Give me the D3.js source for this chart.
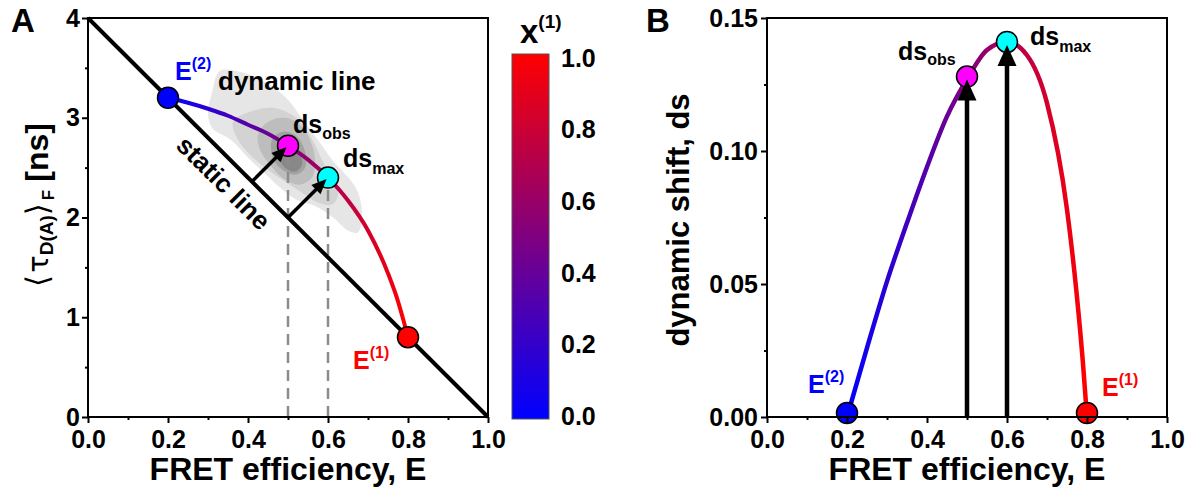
<!DOCTYPE html>
<html>
<head>
<meta charset="utf-8">
<script src="https://cdn.jsdelivr.net/npm/d3@7"></script>
<style>
  body { margin: 0; background: #fff; }
  svg { display: block; }
  text { font-family: "Liberation Sans", Arial, sans-serif; font-weight: bold; fill: #000; }
</style>
</head>
<body>
<svg id="fig" width="1199" height="495"></svg>
<script>
// ---- axis ticks ----
const effTicks  = [0, 0.2, 0.4, 0.6, 0.8, 1.0];
const effMinor  = [0.1, 0.3, 0.5, 0.7, 0.9];
const tauTicks  = [0, 1, 2, 3, 4];
const tauMinor  = [0.5, 1.5, 2.5, 3.5];
const dsTicks   = [0, 0.05, 0.10, 0.15];
const dsMinor   = [0.025, 0.075, 0.125];
const fracTicks = [0, 0.2, 0.4, 0.6, 0.8, 1.0];

// ---- static FRET line ----
const staticE   = [0, 1];
const staticTau = [4, 0];

// ---- dynamic FRET line (two-state mixing between E(2) and E(1)) ----
const dynE     = [0.20, 0.25, 0.30, 0.35, 0.40, 0.45, 0.50, 0.55, 0.60, 0.65, 0.70, 0.75, 0.775, 0.79, 0.80];
const dynTau   = [3.20, 3.15, 3.09, 3.02, 2.93, 2.84, 2.72, 2.58, 2.40, 2.17, 1.87, 1.44, 1.16, 0.95, 0.80];
const dynShift = [0.000, 0.026, 0.051, 0.073, 0.094, 0.113, 0.127, 0.138, 0.141, 0.136, 0.118, 0.078, 0.045, 0.020, 0.000];

// ---- highlighted states ----
const markE     = [0.2, 0.5, 0.6, 0.8];
const markTau   = [3.2, 2.72, 2.40, 0.8];
const markShift = [0.0015, 0.128, 0.141, 0.0015];
const markFill  = ["#0000ff", "#ff00ff", "#00ffff", "#ff0000"];

// ---- shift arrows in panel A (from static line to dynamic line) ----
const arrowFromE   = [0.41, 0.50];
const arrowFromTau = [2.36, 2.00];
const arrowToE     = [0.50, 0.60];
const arrowToTau   = [2.72, 2.40];

// ---- 2D histogram contours (E, tau) ----
const contour1 = [[0.33,3.47],[0.39,3.45],[0.45,3.34],[0.50,3.18],[0.535,2.99],[0.58,2.75],[0.61,2.58],[0.655,2.38],[0.675,2.25],[0.685,2.04],[0.675,1.85],[0.65,1.87],[0.6125,2.0],[0.57,2.11],[0.52,2.18],[0.48,2.30],[0.44,2.45],[0.40,2.60],[0.36,2.77],[0.31,2.90],[0.30,3.05],[0.31,3.25]];
const contour2 = [[0.3625,2.96],[0.405,3.06],[0.46,3.10],[0.51,3.03],[0.5425,2.90],[0.5675,2.73],[0.585,2.58],[0.61,2.40],[0.625,2.23],[0.61,2.13],[0.575,2.15],[0.53,2.26],[0.485,2.38],[0.4425,2.50],[0.405,2.63],[0.375,2.78]];
const contour3 = [[0.425,2.83],[0.45,2.96],[0.4925,3.0],[0.53,2.93],[0.555,2.78],[0.5675,2.58],[0.56,2.40],[0.53,2.33],[0.4925,2.38],[0.455,2.53],[0.43,2.68]];
const contour4 = [[0.46,2.78],[0.4875,2.86],[0.5225,2.81],[0.5425,2.66],[0.5425,2.50],[0.52,2.43],[0.485,2.48],[0.4625,2.60]];
const contour5 = [[0.485,2.68],[0.51,2.70],[0.53,2.63],[0.535,2.53],[0.5175,2.46],[0.4925,2.50],[0.48,2.58]];
const contourShades = ["#e6e6e6", "#d3d3d3", "#bdbdbd", "#a2a2a2", "#888888"];

const svg = d3.select("#fig");
const defs = svg.append("defs");
const colorOf = d3.interpolateRgb("#0000ff", "#ff0000");

// ---- scales ----
const xA = d3.scaleLinear([0, 1], [88, 488]);
const yA = d3.scaleLinear([0, 4], [417, 18]);
const xB = d3.scaleLinear([0, 1], [767, 1167]);
const yB = d3.scaleLinear([0, 0.15], [417, 18]);
const yC = d3.scaleLinear([0, 1], [416, 58]);

// horizontal gradient following x(1), which runs linearly from E(2) to E(1)
function hGradient(id, x) {
  const g = defs.append("linearGradient").attr("id", id)
    .attr("gradientUnits", "userSpaceOnUse")
    .attr("x1", x(markE[0])).attr("x2", x(markE[3])).attr("y1", 0).attr("y2", 0);
  fracTicks.forEach(f => g.append("stop").attr("offset", f).attr("stop-color", colorOf(f)));
}
hGradient("gradA", xA);
hGradient("gradB", xB);
const vg = defs.append("linearGradient").attr("id", "gradC")
  .attr("x1", 0).attr("x2", 0).attr("y1", 1).attr("y2", 0);
fracTicks.forEach(f => vg.append("stop").attr("offset", f).attr("stop-color", colorOf(f)));

const TICK_FONT = 25;

function styleAxis(g) {
  g.select(".domain").remove();
  g.selectAll(".tick line").attr("stroke", "#000").attr("stroke-width", 2);
  g.selectAll(".tick text").attr("font-size", TICK_FONT).attr("fill", "#000");
}

function axes(x, y, yTicks, yMinor, yFmt, yPad) {
  const x0 = x.range()[0], y0 = y.range()[0];
  svg.append("g").attr("transform", `translate(0,${y0})`)
    .call(d3.axisBottom(x).tickValues(effTicks).tickSize(6).tickPadding(7).tickFormat(d3.format(".1f")))
    .call(styleAxis);
  svg.append("g").attr("transform", `translate(0,${y0})`)
    .call(d3.axisBottom(x).tickValues(effMinor).tickSize(3).tickFormat(""))
    .call(styleAxis);
  svg.append("g").attr("transform", `translate(${x0},0)`)
    .call(d3.axisLeft(y).tickValues(yTicks).tickSize(6).tickPadding(yPad).tickFormat(yFmt))
    .call(styleAxis);
  svg.append("g").attr("transform", `translate(${x0},0)`)
    .call(d3.axisLeft(y).tickValues(yMinor).tickSize(3).tickFormat(""))
    .call(styleAxis);
}

function frame(x, y) {
  svg.append("rect")
    .attr("x", x.range()[0]).attr("y", y.range()[1])
    .attr("width", x.range()[1] - x.range()[0]).attr("height", y.range()[0] - y.range()[1])
    .attr("fill", "none").attr("stroke", "#000").attr("stroke-width", 2);
}

function arrowHead(tx, ty, fx, fy, len, wid) {
  const a = Math.atan2(ty - fy, tx - fx);
  const ux = Math.cos(a), uy = Math.sin(a);
  const bx = tx - ux * len, by = ty - uy * len;
  const px = -uy * wid / 2, py = ux * wid / 2;
  return `M${tx},${ty}L${bx + px},${by + py}L${bx - px},${by - py}Z`;
}

function richLabel(x, y, base, sub, color, size, subSize, dy) {
  const t = svg.append("text").attr("x", x).attr("y", y).attr("font-size", size).style("fill", color);
  t.append("tspan").text(base);
  t.append("tspan").attr("font-size", subSize).attr("dy", dy).text(sub);
  return t;
}

// =================== Panel A ===================
const gA = svg.append("g");
const closed = d3.line().x(d => xA(d[0])).y(d => yA(d[1])).curve(d3.curveCatmullRomClosed.alpha(0.5));
[contour1, contour2, contour3, contour4, contour5].forEach((c, i) =>
  gA.append("path").attr("d", closed(c)).attr("fill", contourShades[i]));

// dashed guides at the two highlighted efficiencies
[1, 2].forEach(i => gA.append("line")
  .attr("x1", xA(markE[i])).attr("x2", xA(markE[i]))
  .attr("y1", yA(0)).attr("y2", yA(markTau[i]) + 12)
  .attr("stroke", "#8c8c8c").attr("stroke-width", 2.5).attr("stroke-dasharray", "11,7"));

gA.append("line")
  .attr("x1", xA(staticE[0])).attr("y1", yA(staticTau[0]))
  .attr("x2", xA(staticE[1])).attr("y2", yA(staticTau[1]))
  .attr("stroke", "#000").attr("stroke-width", 4);

const dynLineA = d3.line().x((d, i) => xA(dynE[i])).y((d, i) => yA(dynTau[i])).curve(d3.curveMonotoneX);
gA.append("path").attr("d", dynLineA(dynE)).attr("fill", "none")
  .attr("stroke", "url(#gradA)").attr("stroke-width", 4);

// shift arrows: shafts
arrowFromE.forEach((e, i) => {
  const fx = xA(e), fy = yA(arrowFromTau[i]), tx = xA(arrowToE[i]), ty = yA(arrowToTau[i]);
  const a = Math.atan2(ty - fy, tx - fx);
  gA.append("line").attr("x1", fx).attr("y1", fy)
    .attr("x2", tx - Math.cos(a) * 14).attr("y2", ty - Math.sin(a) * 14)
    .attr("stroke", "#000").attr("stroke-width", 3.5);
});

markE.forEach((e, i) => gA.append("circle")
  .attr("cx", xA(e)).attr("cy", yA(markTau[i])).attr("r", 10.5)
  .attr("fill", markFill[i]).attr("stroke", "#000").attr("stroke-width", 1.5));

arrowFromE.forEach((e, i) => {
  const fx = xA(e), fy = yA(arrowFromTau[i]), tx = xA(arrowToE[i]), ty = yA(arrowToTau[i]);
  const a = Math.atan2(ty - fy, tx - fx);
  gA.append("path").attr("d", arrowHead(tx - Math.cos(a) * 2, ty - Math.sin(a) * 2, fx, fy, 15, 13)).attr("fill", "#000");
});

axes(xA, yA, tauTicks, tauMinor, d3.format("d"), 2);
frame(xA, yA);

// panel A labels
svg.append("text").attr("x", 11).attr("y", 32).attr("font-size", 33).text("A");
svg.append("text").attr("x", 288).attr("y", 480).attr("font-size", 32).attr("text-anchor", "middle")
  .text("FRET efficiency, E");

const yl = svg.append("text").attr("transform", "translate(48,205) rotate(-90)")
  .attr("text-anchor", "middle").attr("font-size", 30);
yl.append("tspan").attr("font-family", "DejaVu Sans").attr("font-weight", "normal").attr("font-size", 31).text("\u27E8");
yl.append("tspan").attr("font-family", "DejaVu Sans").attr("font-weight", "normal").attr("font-size", 29).attr("dx", 2).text("\u03C4");
yl.append("tspan").attr("font-size", 19).attr("dy", 5).text("D(A)");
yl.append("tspan").attr("font-family", "DejaVu Sans").attr("font-weight", "normal").attr("font-size", 31).attr("dy", -5).text("\u27E9");
yl.append("tspan").attr("font-size", 17).attr("dy", 6).attr("dx", 3).text("F");
yl.append("tspan").attr("font-size", 32).attr("dy", -6).attr("dx", 8).text("[ns]");

richLabel(175, 80, "E", "(2)", "#0000ff", 25, 16, -11);
richLabel(353, 369, "E", "(1)", "#ff0000", 25, 16, -11);
svg.append("text").attr("x", 218).attr("y", 90).attr("font-size", 26).text("dynamic line");
richLabel(293, 133, "ds", "obs", "#000", 25, 16, 6);
richLabel(343, 167, "ds", "max", "#000", 25, 16, 7);

// "static line" runs parallel to the static line, below it
{
  const e0 = 0.27;
  const p0x = xA(e0), p0y = yA(4 * (1 - e0));
  const ang = Math.atan2(yA(staticTau[1]) - yA(staticTau[0]), xA(staticE[1]) - xA(staticE[0]));
  const off = 30;
  const px = p0x - Math.sin(ang) * off, py = p0y + Math.cos(ang) * off;
  svg.append("text").attr("transform", `translate(${px},${py}) rotate(${ang * 180 / Math.PI})`)
    .attr("font-size", 26).text("static line");
}

// =================== Color bar ===================
svg.append("rect").attr("x", 512).attr("y", 54).attr("width", 37).attr("height", 365)
  .attr("fill", "url(#gradC)").attr("stroke", "#555").attr("stroke-width", 1);
fracTicks.forEach(f => svg.append("text").attr("x", 561).attr("y", yC(f)).attr("dy", "0.35em")
  .attr("font-size", TICK_FONT).text(d3.format(".1f")(f)));
richLabel(520, 43, "x", "(1)", "#000", 33, 19, -15);

// =================== Panel B ===================
const gB = svg.append("g");
const dynLineB = d3.line().x((d, i) => xB(dynE[i])).y((d, i) => yB(dynShift[i])).curve(d3.curveMonotoneX);
gB.append("path").attr("d", dynLineB(dynE)).attr("fill", "none")
  .attr("stroke", "url(#gradB)").attr("stroke-width", 4.5);

[1, 2].forEach(i => gB.append("line")
  .attr("x1", xB(markE[i])).attr("x2", xB(markE[i]))
  .attr("y1", yB(0)).attr("y2", yB(markShift[i]) + 20)
  .attr("stroke", "#000").attr("stroke-width", 4.5));

markE.forEach((e, i) => gB.append("circle")
  .attr("cx", xB(e)).attr("cy", yB(markShift[i])).attr("r", 10.5)
  .attr("fill", markFill[i]).attr("stroke", "#000").attr("stroke-width", 1.5));

[1, 2].forEach(i => {
  const tx = xB(markE[i]), ty = yB(markShift[i]) + 3;
  gB.append("path").attr("d", arrowHead(tx, ty, tx, yB(0), 21, 19)).attr("fill", "#000");
});

axes(xB, yB, dsTicks, dsMinor, d3.format(".2f"), 3);
frame(xB, yB);

svg.append("text").attr("x", 646).attr("y", 32).attr("font-size", 33).text("B");
svg.append("text").attr("x", 967).attr("y", 480).attr("font-size", 32).attr("text-anchor", "middle")
  .text("FRET efficiency, E");
svg.append("text").attr("transform", "translate(689,220) rotate(-90)").attr("text-anchor", "middle")
  .attr("font-size", 31).text("dynamic shift, ds");

richLabel(808, 393, "E", "(2)", "#0000ff", 25, 16, -11);
richLabel(1102, 396, "E", "(1)", "#ff0000", 25, 16, -11);
richLabel(898, 60, "ds", "obs", "#000", 25, 16, 5);
richLabel(1030, 45, "ds", "max", "#000", 25, 16, 7);
</script>
</body>
</html>
